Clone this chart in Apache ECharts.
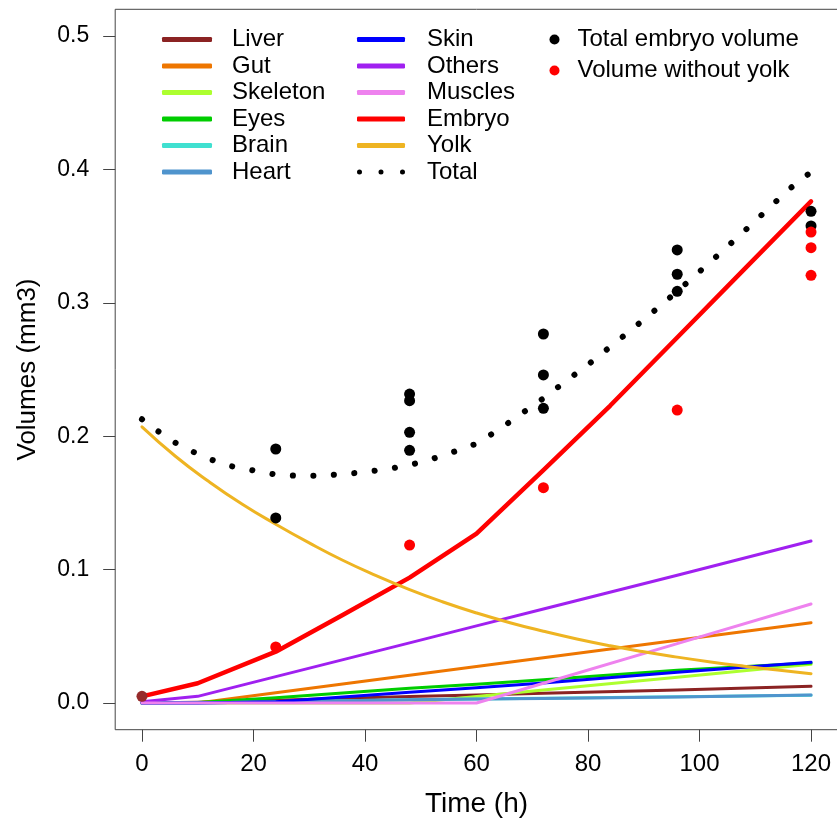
<!DOCTYPE html>
<html>
<head>
<meta charset="utf-8">
<script src="https://cdn.jsdelivr.net/npm/echarts@6/dist/echarts.min.js"></script>
<style>
  html, body { margin: 0; padding: 0; background: #fff; }
  #chart { width: 837px; height: 823px; }
</style>
</head>
<body>
<div id="chart"></div>
<script>
// Organ volumes (mm3) sampled at these times (h)
const organTimes = [0, 10, 24, 48, 60, 72, 96, 120];
const liver    = [0, 0.0005, 0.002, 0.0048, 0.006, 0.0073, 0.0098, 0.0125];
const gut      = [0, 0, 0.0077, 0.0208, 0.0274, 0.034, 0.047, 0.0602];
const skeleton = [0, 0, 0, 0, 0.0048, 0.0097, 0.0193, 0.029];
const eyes     = [0, 0.0003, 0.004, 0.011, 0.014, 0.0175, 0.0245, 0.030];
const brain    = [0, 0, 0.001, 0.0025, 0.003, 0.0035, 0.0047, 0.0058];
const heart    = [0, 0, 0.001, 0.0025, 0.003, 0.0033, 0.0045, 0.006];
const skin     = [0, 0, 0.001, 0.008, 0.0115, 0.015, 0.023, 0.0305];
const others   = [0.001, 0.005, 0.0198, 0.0451, 0.0578, 0.0705, 0.0958, 0.1214];
const muscles  = [0, 0, 0, 0, 0, 0.0148, 0.0445, 0.0742];

// Whole embryo and yolk
const embryoTimes = [0, 10, 24, 36, 48, 60, 72, 84, 96, 108, 120];
const embryo      = [0.005, 0.0148, 0.0385, 0.066, 0.094, 0.127, 0.1745, 0.223, 0.274, 0.325, 0.376];
const yolkTimes = [0, 6, 12, 18, 24, 30, 36, 42, 48, 54, 60, 66, 72, 78, 84, 90, 96, 102, 108, 114, 120];
const yolk      = [0.207, 0.185, 0.166, 0.149, 0.134, 0.120, 0.107, 0.0955, 0.085, 0.0757, 0.0675,
                   0.0602, 0.0538, 0.048, 0.0429, 0.0384, 0.0344, 0.0308, 0.0276, 0.0247, 0.022];
const totalTimes = [0, 3, 6, 10, 12, 16, 20, 24, 28, 32, 36, 40, 44, 48, 52, 56, 60, 64, 68, 72,
                    76, 80, 84, 88, 92, 96, 100, 104, 108, 112, 116, 120];
const total      = [0.2127, 0.2034, 0.1951, 0.1866, 0.183, 0.1775, 0.1743, 0.1712, 0.1703, 0.1704,
                    0.1715, 0.1731, 0.1754, 0.1783, 0.1829, 0.1884, 0.1944, 0.2049, 0.2167, 0.2284,
                    0.2412, 0.2536, 0.2671, 0.2805, 0.2944, 0.3086, 0.3234, 0.3384, 0.3536, 0.3692,
                    0.3850, 0.398];

// Measured volumes
const measuredTimes  = [24, 24, 48, 48, 48, 48, 72, 72, 72, 96, 96, 96, 120, 120];
const measuredTotal  = [0.1904, 0.1387, 0.2316, 0.2266, 0.2029, 0.1894, 0.2766, 0.2459, 0.2209,
                        0.3396, 0.3214, 0.3086, 0.3686, 0.3576];
const noYolkTimes    = [0, 24, 48, 72, 96, 120, 120, 120];
const noYolkValues   = [0.005, 0.042, 0.1184, 0.1614, 0.2196, 0.353, 0.3413, 0.3206];

// Axis ticks
const xTicks = [0, 20, 40, 60, 80, 100, 120];
const yTicks = [0, 0.1, 0.2, 0.3, 0.4, 0.5];

const FONT = "'Liberation Sans', Arial, sans-serif";
const zip = (t, v) => t.map((x, i) => [x, v[i]]);

function lineSeries(name, times, values, color, width, smooth) {
  return {
    name, type: 'line', data: zip(times, values),
    showSymbol: false, symbol: 'none', silent: true, smooth: !!smooth,
    lineStyle: { color, width, cap: 'round', join: 'round' },
    itemStyle: { color }
  };
}

const organs = [
  ['Liver', liver, '#8B2323'],
  ['Gut', gut, '#EE7600'],
  ['Skeleton', skeleton, '#ADFF2F'],
  ['Eyes', eyes, '#00CD00'],
  ['Brain', brain, '#40E0D0'],
  ['Heart', heart, '#4F94CD'],
  ['Skin', skin, '#0000FF'],
  ['Others', others, '#A020F0'],
  ['Muscles', muscles, '#EE82EE']
];

const series = organs.map(([n, v, c]) => lineSeries(n, organTimes, v, c, 3));
series.push(lineSeries('Embryo', embryoTimes, embryo, '#FF0000', 4.5));
series.push(lineSeries('Yolk', yolkTimes, yolk, '#EEB422', 3, true));
series.push({
  name: 'Total', type: 'line', data: zip(totalTimes, total),
  showSymbol: false, symbol: 'none', silent: true,
  lineStyle: { color: '#000', width: 6, type: [0.1, 20.4], cap: 'round' },
  itemStyle: { color: '#000' }
});
series.push({
  name: 'Total embryo volume', type: 'scatter', data: zip(measuredTimes, measuredTotal),
  symbol: 'circle', symbolSize: 11, silent: true, z: 5,
  itemStyle: { color: '#000', opacity: 1 }
});
// the hatching-time point is drawn in a darker red
const noYolkData = zip(noYolkTimes, noYolkValues).map(p =>
  p[0] === 0 ? { value: p, itemStyle: { color: '#962b2b' } } : p);
series.push({
  name: 'Volume without yolk', type: 'scatter', data: noYolkData,
  symbol: 'circle', symbolSize: 11, silent: true, z: 6,
  itemStyle: { color: '#FF0000', opacity: 1 }
});

const legendText = { fontFamily: FONT, fontSize: 24, color: '#000', lineHeight: 22, padding: [0, 0, 0, 15] };
const dotsIcon = 'path://M0,2.5a2.5,2.5 0 1,0 5,0a2.5,2.5 0 1,0 -5,0Z' +
                 'M21.5,2.5a2.5,2.5 0 1,0 5,0a2.5,2.5 0 1,0 -5,0Z' +
                 'M43,2.5a2.5,2.5 0 1,0 5,0a2.5,2.5 0 1,0 -5,0Z';

const option = {
  animation: false,
  backgroundColor: '#fff',
  grid: {
    left: 115.2, top: 9.3, right: -0.8, height: 720.4,
    containLabel: false, outerBoundsMode: 'none',
    show: true, borderColor: '#444', borderWidth: 1, backgroundColor: 'transparent'
  },
  legend: [
    {
      orient: 'vertical', left: 162, top: 27.5, itemGap: 2.5, padding: 0,
      itemWidth: 50, itemHeight: 5, icon: 'roundRect',
      data: ['Liver', 'Gut', 'Skeleton', 'Eyes', 'Brain', 'Heart'],
      textStyle: legendText, selectedMode: false
    },
    {
      orient: 'vertical', left: 357, top: 27.5, itemGap: 2.5, padding: 0,
      itemWidth: 48, itemHeight: 5, icon: 'roundRect',
      data: ['Skin', 'Others', 'Muscles', 'Embryo', 'Yolk', { name: 'Total', icon: dotsIcon }],
      textStyle: Object.assign({}, legendText, { padding: [0, 0, 0, 17] }), selectedMode: false
    },
    {
      orient: 'vertical', left: 549.5, top: 27.5, itemGap: 7, padding: 0,
      itemWidth: 10, itemHeight: 10, icon: 'circle',
      data: ['Total embryo volume', 'Volume without yolk'],
      textStyle: Object.assign({}, legendText, { padding: [0, 0, 0, 13] }), selectedMode: false
    }
  ],
  xAxis: {
    type: 'value', min: -4.8, max: 124.8,
    name: 'Time (h)', nameLocation: 'middle', nameGap: 61,
    nameTextStyle: { fontFamily: FONT, fontSize: 28, color: '#000' },
    axisLine: { show: false, onZero: false },
    splitLine: { show: false },
    axisTick: { show: true, customValues: xTicks, length: 12, lineStyle: { color: '#444', width: 1 } },
    axisLabel: { customValues: xTicks, margin: 23, fontFamily: FONT, fontSize: 24, color: '#000' }
  },
  yAxis: {
    type: 'value', min: -0.02, max: 0.52,
    name: 'Volumes (mm3)', nameLocation: 'middle', nameGap: 74,
    nameTextStyle: { fontFamily: FONT, fontSize: 26, color: '#000' },
    axisLine: { show: false, onZero: false },
    splitLine: { show: false },
    axisTick: { show: true, customValues: yTicks, length: 12, lineStyle: { color: '#444', width: 1 } },
    axisLabel: {
      customValues: yTicks, margin: 26, fontFamily: FONT, fontSize: 23, color: '#000',
      formatter: v => v.toFixed(1)
    }
  },
  series
};

const chart = echarts.init(document.getElementById('chart'), null, { renderer: 'canvas' });
chart.setOption(option);
</script>
</body>
</html>
